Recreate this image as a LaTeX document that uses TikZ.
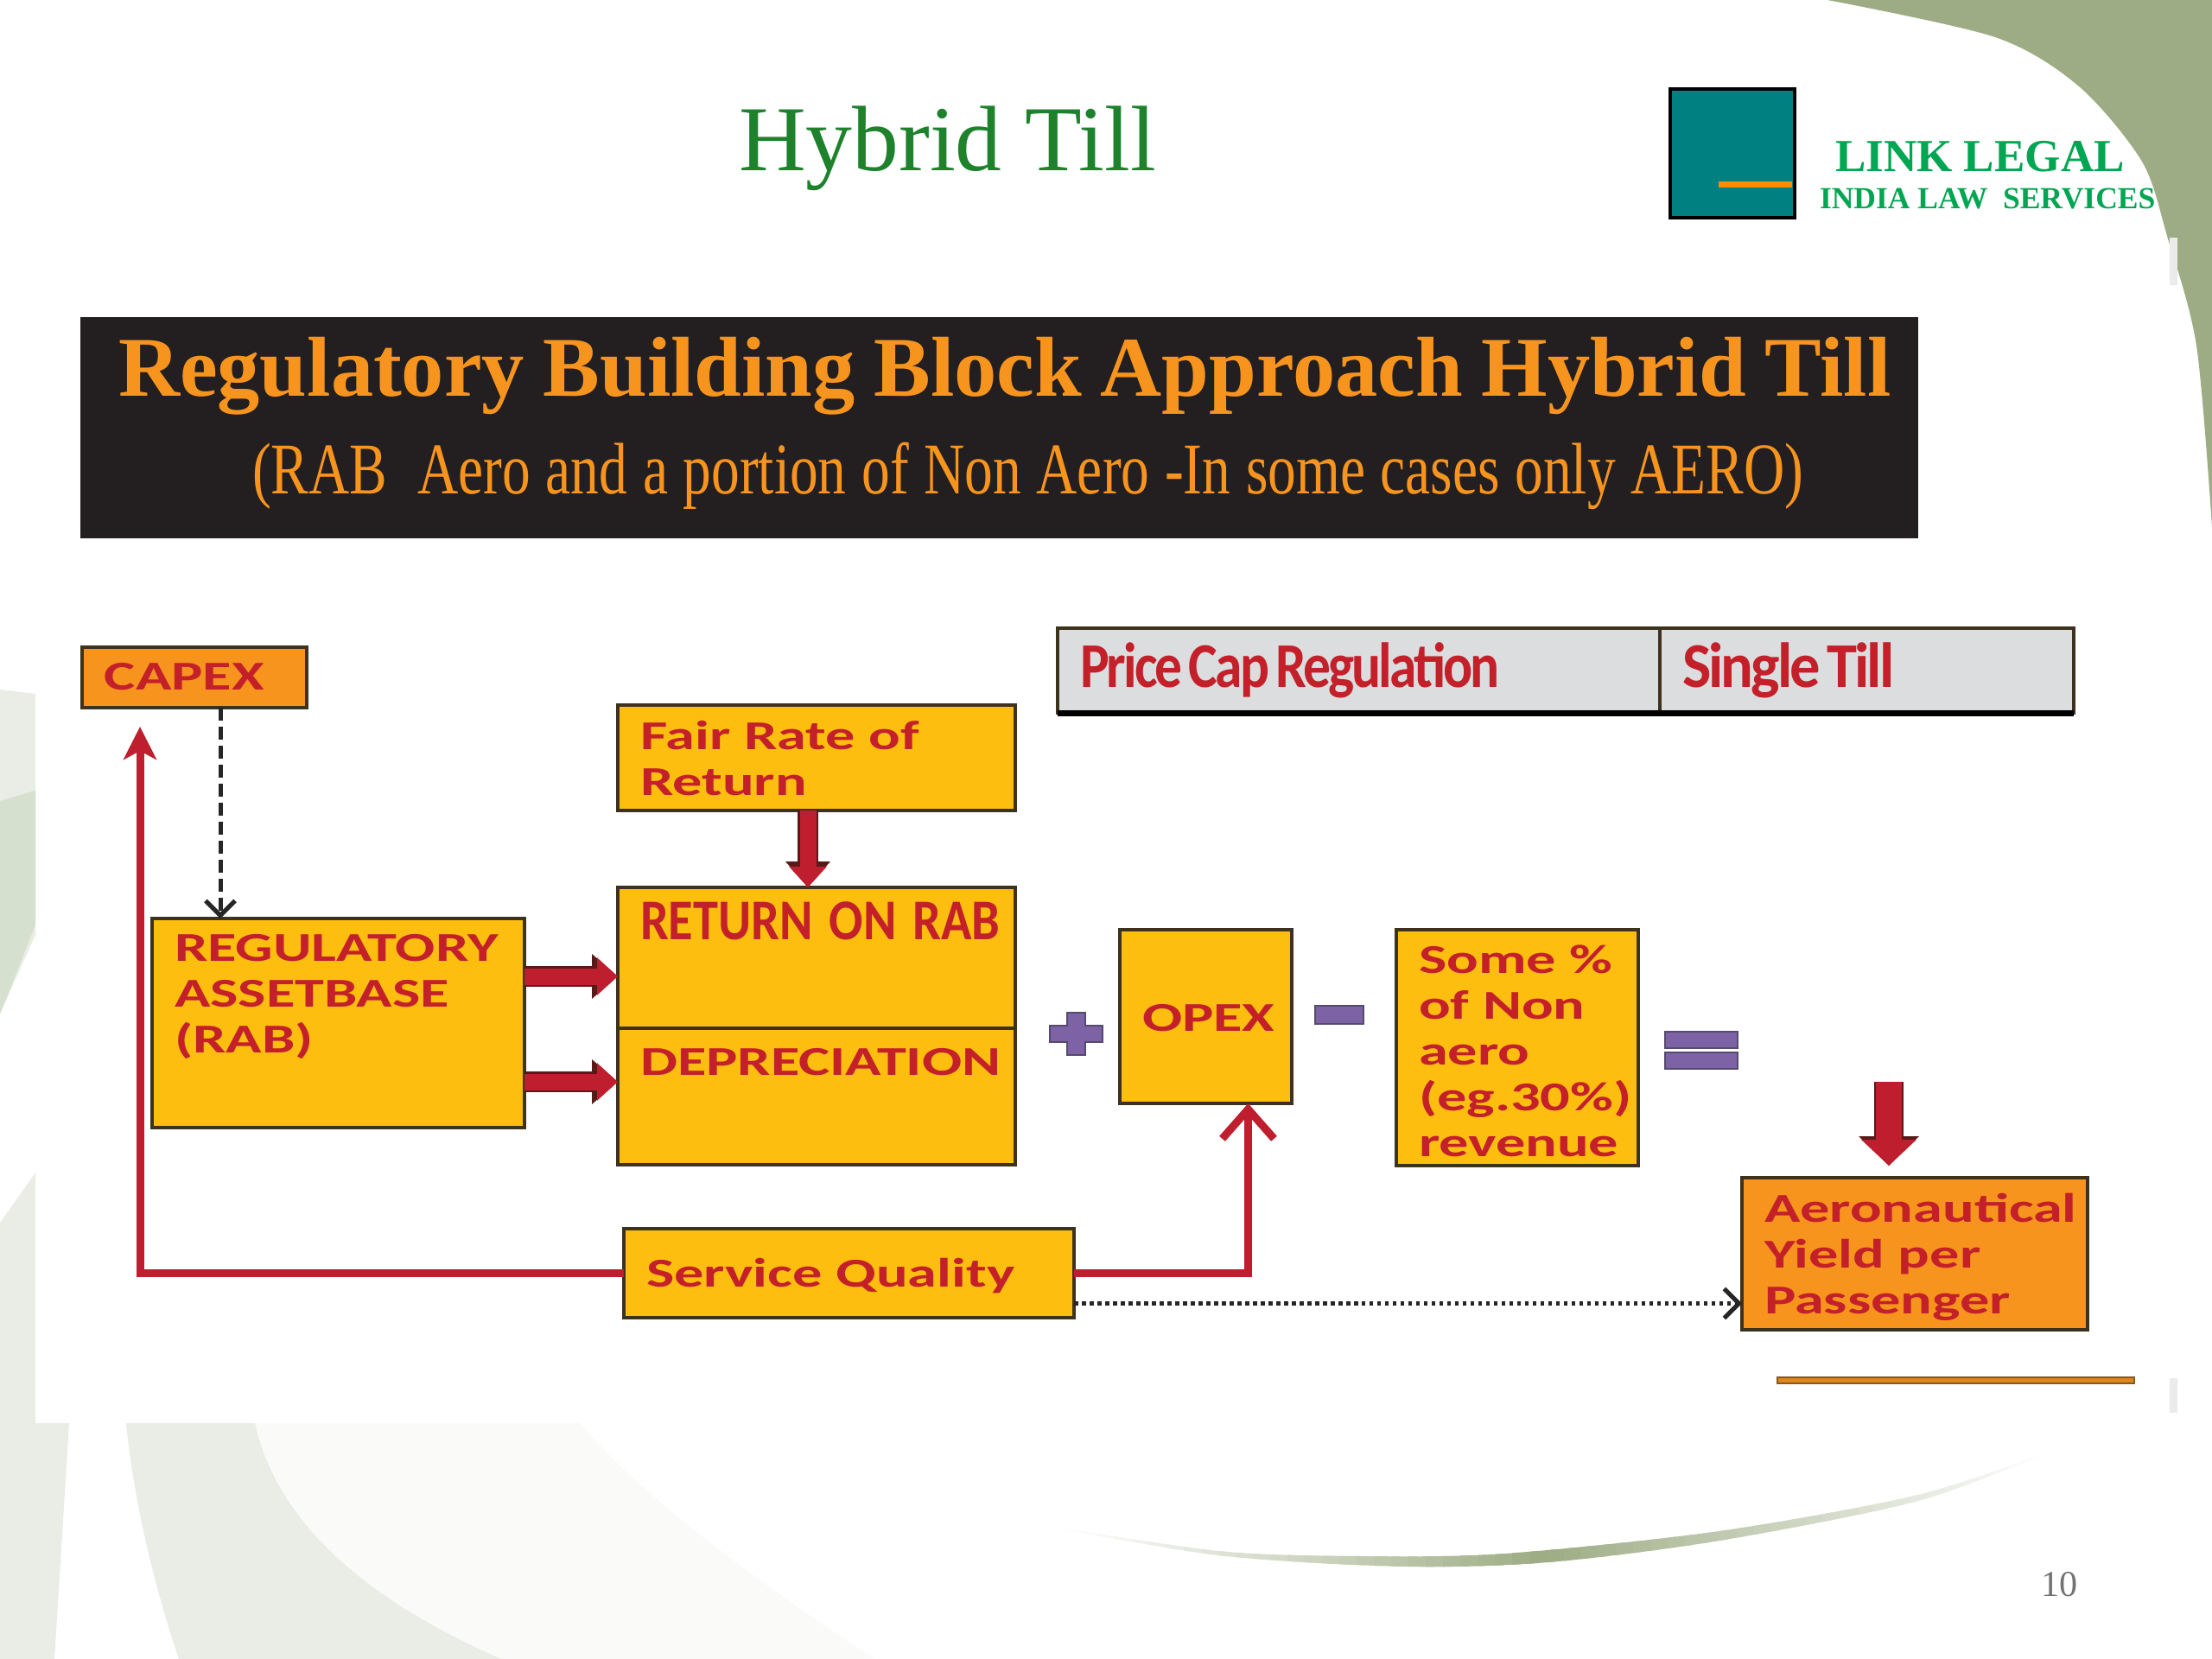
\documentclass[tikz,border=0pt]{standalone}
\usepackage{fontspec}
\setmainfont{Liberation Serif}
\newfontfamily\blockfont[FakeStretch=1.44]{Carlito}
\newfontfamily\returnfont[FakeStretch=.875]{Carlito}
\newfontfamily\tightfont[FakeStretch=.86,LetterSpace=-4]{Carlito}
\newfontfamily\tillfont[FakeStretch=.955,LetterSpace=-4]{Carlito}
\newfontfamily\bannerfont[FakeStretch=.775]{Liberation Serif}
\newcommand{\wordgap}[1]{\spaceskip=#1em\relax}
\usetikzlibrary{arrows.meta,calc,positioning}
\definecolor{blockColor}{RGB}{253,190,16}
\definecolor{yieldColor}{RGB}{247,148,30}
\definecolor{priceColor}{RGB}{220,221,223}
\definecolor{edgeColor}{RGB}{60,50,30}
\definecolor{labelColor}{RGB}{196,32,42}
\definecolor{arrowColor}{RGB}{190,30,45}
\definecolor{arrowEdge}{RGB}{90,25,25}
\definecolor{signColor}{RGB}{125,98,165}
\definecolor{signEdge}{RGB}{85,75,110}
\definecolor{bannerColor}{RGB}{35,31,32}
\definecolor{bannerText}{RGB}{247,148,30}
\definecolor{titleColor}{RGB}{30,130,45}
\definecolor{logoColor}{RGB}{0,128,128}
\definecolor{logoText}{RGB}{0,166,81}
\definecolor{leafColor}{RGB}{157,172,132}
\definecolor{paleColor}{RGB}{233,237,229}
\definecolor{midColor}{RGB}{214,224,206}
\definecolor{fadeColor}{RGB}{250,251,249}
\tikzset{blockbox/.style={draw=edgeColor, fill=blockColor, line width=.035cm, anchor=north west, outer sep=0pt, inner xsep=.26cm, inner ysep=0pt, align=left, text=labelColor, font=\blockfont\bfseries\fontsize{13.5}{15.1}\selectfont}}
\tikzset{yieldbox/.style={blockbox, fill=yieldColor}}
\tikzset{pricebox/.style={blockbox, fill=priceColor, font=\tightfont\bfseries\fontsize{21}{23}\selectfont}}
\tikzset{plainlabel/.style={anchor=base west, inner sep=0pt, outer sep=0pt}}
\tikzset{signbox/.style={draw=signEdge, fill=signColor, line width=.025cm}}
\tikzstyle{redline} = [draw=arrowColor, line width=.09cm, -{Stealth[length=.38cm,width=.38cm,inset=.1cm]}]
\tikzstyle{redbarb} = [draw=arrowColor, line width=.09cm, -{Straight Barb[length=.34cm,width=.6cm]}]
\tikzstyle{thinline} = [draw=black!85, line width=.05cm, -{Straight Barb[length=.17cm,width=.34cm]}]
\tikzstyle{fatarrow} = [draw=arrowColor, line width=.19cm, -{Triangle[length=.24cm,width=.42cm]}, preaction={draw=arrowEdge, line width=.24cm, -{Triangle[length=.3cm,width=.5cm]}}]

\begin{document}
\begin{tikzpicture}
	\useasboundingbox (0,0) rectangle (25.6,-19.2);
	% Background
	\fill[white] (0,0) rectangle (25.6,-19.2);
	\fill[leafColor] plot[smooth] coordinates {(21.15,0) (23.09,-.43) (24.06,-1) (24.79,-1.87) (25.08,-2.73) (25.42,-4) (25.6,-6.1)} -- (25.6,0) -- cycle;
	\fill[paleColor] (0,-7.98) -- (.41,-8.03) -- (.41,-16.47) -- (.8,-16.47) -- (.63,-19.2) -- (0,-19.2) -- cycle;
	\fill[midColor] (0,-9.27) -- (.41,-9.15) -- (.41,-10.7) -- (0,-11.74) -- cycle;
	\fill[white] (0,-11.74) -- (.41,-10.82) -- (.41,-13.57) -- (0,-14.15) -- cycle;
	\fill[fadeColor] (2,-16.47) -- (6.72,-16.47) .. controls (7.3,-17.2) and (8.6,-18.2) .. (10.12,-19.2) -- (3,-19.2) -- cycle;
	\fill[paleColor] (1.46,-16.47) -- (2.95,-16.47) .. controls (3.2,-17.6) and (4.2,-18.5) .. (5.8,-19.2) -- (2.07,-19.2) .. controls (1.8,-18.4) and (1.55,-17.4) .. cycle;
	\begin{scope}
		\clip plot[smooth] coordinates {(11.95,-17.63) (14.1,-18) (16.26,-18.13) (17.92,-18.08) (19.9,-17.83) (22.2,-17.37) (23.72,-16.8)} -- plot[smooth] coordinates {(23.72,-16.8) (22.2,-17.3) (19.9,-17.72) (17.42,-17.98) (15.76,-18.01) (14.1,-17.95) (11.95,-17.63)} -- cycle;
		\foreach \stripx in {11.9,12.1,...,23.7} {
			\pgfmathsetmacro{\strippct}{max(0,100-abs(\stripx-17.75)*(\stripx<17.75?18:17))}
			\fill[leafColor!\strippct!white] (\stripx,-16) rectangle (\stripx+.3,-19);
		}
	\end{scope}
	\fill[black!8] (25.11,-2.75) rectangle (25.2,-3.3);
	\fill[black!8] (25.11,-15.95) rectangle (25.2,-16.35);

	% Nodes
	\node (title) [plainlabel, text=titleColor, font=\fontsize{30.6}{36}\selectfont] at (8.55,-1.98) {Hybrid Till};
	\node (logo) [draw=black, fill=logoColor, line width=.04cm, anchor=north west, minimum width=1.44cm, minimum height=1.49cm, outer sep=0pt] at (19.33,-1.03) {};
	\fill[orange!90!yellow] (19.89,-2.1) rectangle (20.74,-2.17);
	\node (linklegal) [plainlabel, text=logoText, font=\bfseries\fontsize{15.1}{17}\selectfont] at (21.24,-1.99) {LINK LEGAL};
	\node (indialaw) [plainlabel, text=logoText, font=\bfseries\fontsize{10.1}{12}\selectfont] at (21.06,-2.42) {INDIA LAW\ \ SERVICES};

	\node (banner) [anchor=north west, fill=bannerColor, outer sep=0pt, inner xsep=.44cm, inner ysep=0pt, text width=20.39cm, align=left, text height=.92cm, text depth=1.64cm, text=bannerText, font=\fontsize{26}{31.9}\selectfont] at (.93,-3.67) {\mbox{\bfseries\fontsize{28}{30}\selectfont\wordgap{.22}Regulatory Building Block Approach Hybrid Till}\\\hspace*{1.55cm}\mbox{\bannerfont\fontsize{24}{30}\selectfont\wordgap{.21}(RAB\ \ Aero and a portion of Non Aero -In some cases only AERO)}};

	\node (capex) [yieldbox, text width=2.08cm, text height=.49cm, text depth=.21cm] at (.95,-7.49) {CAPEX};
	\node (fair) [blockbox, text width=4.08cm, text height=.51cm, text depth=.71cm] at (7.15,-8.16) {Fair Rate of\\Return};
	\node (ret) [blockbox, text width=4.08cm, text height=.6cm, text depth=1.03cm, font=\returnfont\bfseries\fontsize{19}{21}\selectfont] at (7.15,-10.27) {\mbox{\wordgap{.28}RETURN ON RAB}};
	\node (dep) [blockbox, text width=4.08cm, text height=.54cm, text depth=1.04cm] at (7.15,-11.9) {DEPRECIATION};
	\node (rab) [blockbox, text width=3.79cm, text height=.49cm, text depth=1.93cm] at (1.76,-10.63) {REGULATORY\\ASSETBASE\\(RAB)};
	\node (service) [blockbox, text width=4.69cm, text height=.67cm, text depth=.36cm] at (7.22,-14.22) {Service Quality};
	\node (opex) [blockbox, text width=1.47cm, text height=1.17cm, text depth=.84cm] at (12.96,-10.76) {OPEX};
	\node (some) [blockbox, text width=2.28cm, text height=.5cm, text depth=2.23cm] at (16.16,-10.76) {Some \%\\of Non\\aero\\(eg.30\%)\\revenue};
	\node (yield) [yieldbox, text width=3.48cm, text height=.51cm, text depth=1.25cm] at (20.16,-13.63) {Aeronautical\\Yield per\\Passenger};
	\node (price) [pricebox, text width=6.45cm, text height=.68cm, text depth=.3cm] at (12.24,-7.27) {\wordgap{.1}Price Cap Regulation};
	\node (single) [pricebox, text width=4.27cm, text height=.68cm, text depth=.3cm, font=\tillfont\bfseries\fontsize{21}{23}\selectfont] at (19.21,-7.27) {\wordgap{.1}Single Till};
	\draw[black, line width=.07cm] (price.south west) -- (single.south east);
	\draw[edgeColor!60!yieldColor, fill=yieldColor!90!black, line width=.02cm] (20.57,-15.94) rectangle (24.7,-16.01);
	\node (pagenum) [plainlabel, text=black!55, font=\fontsize{12}{14}\selectfont] at (23.62,-18.47) {10};

	% Signs
	\draw[signbox] (12.35,-11.72) -- (12.35,-11.87) -- (12.15,-11.87) -- (12.15,-12.06) -- (12.35,-12.06) -- (12.35,-12.21) -- (12.56,-12.21) -- (12.56,-12.06) -- (12.76,-12.06) -- (12.76,-11.87) -- (12.56,-11.87) -- (12.56,-11.72) -- cycle;
	\draw[signbox] (15.22,-11.64) rectangle (15.78,-11.85);
	\draw[signbox] (19.27,-11.94) rectangle (20.11,-12.13);
	\draw[signbox] (19.27,-12.18) rectangle (20.11,-12.37);

	% Connectors
	\coordinate (capexin) at (1.62,-8.41);
	\coordinate (yieldtop) at (21.86,-12.52);
	\coordinate (yieldtip) at (21.86,-13.49);

	\draw [redline] (service.west) -| (capexin);
	\draw [redbarb] (service.east) -| ([xshift=.49cm]opex.south);
	\draw [thinline, dash pattern=on .15cm off .07cm] ([xshift=.3cm]capex.south) -- ([xshift=.3cm]capex.south |- rab.north);
	\draw [thinline, dash pattern=on .045cm off .045cm] ([yshift=-.35cm]service.east) -- ([yshift=-.35cm]service.east -| yield.west);

	\draw [fatarrow] ([yshift=.54cm]rab.east) -- ([yshift=.54cm]rab.east -| ret.west);
	\draw [fatarrow] ([yshift=-.68cm]rab.east) -- ([yshift=-.68cm]rab.east -| dep.west);
	\draw [fatarrow] ([xshift=-.1cm]fair.south) -- ([xshift=-.1cm]ret.north);
	\draw [fatarrow, line width=.3cm, -{Triangle[length=.3cm,width=.62cm]}, preaction={draw=arrowEdge, line width=.34cm, -{Triangle[length=.34cm,width=.68cm]}}] (yieldtop) -- (yieldtip);
\end{tikzpicture}
\end{document}
